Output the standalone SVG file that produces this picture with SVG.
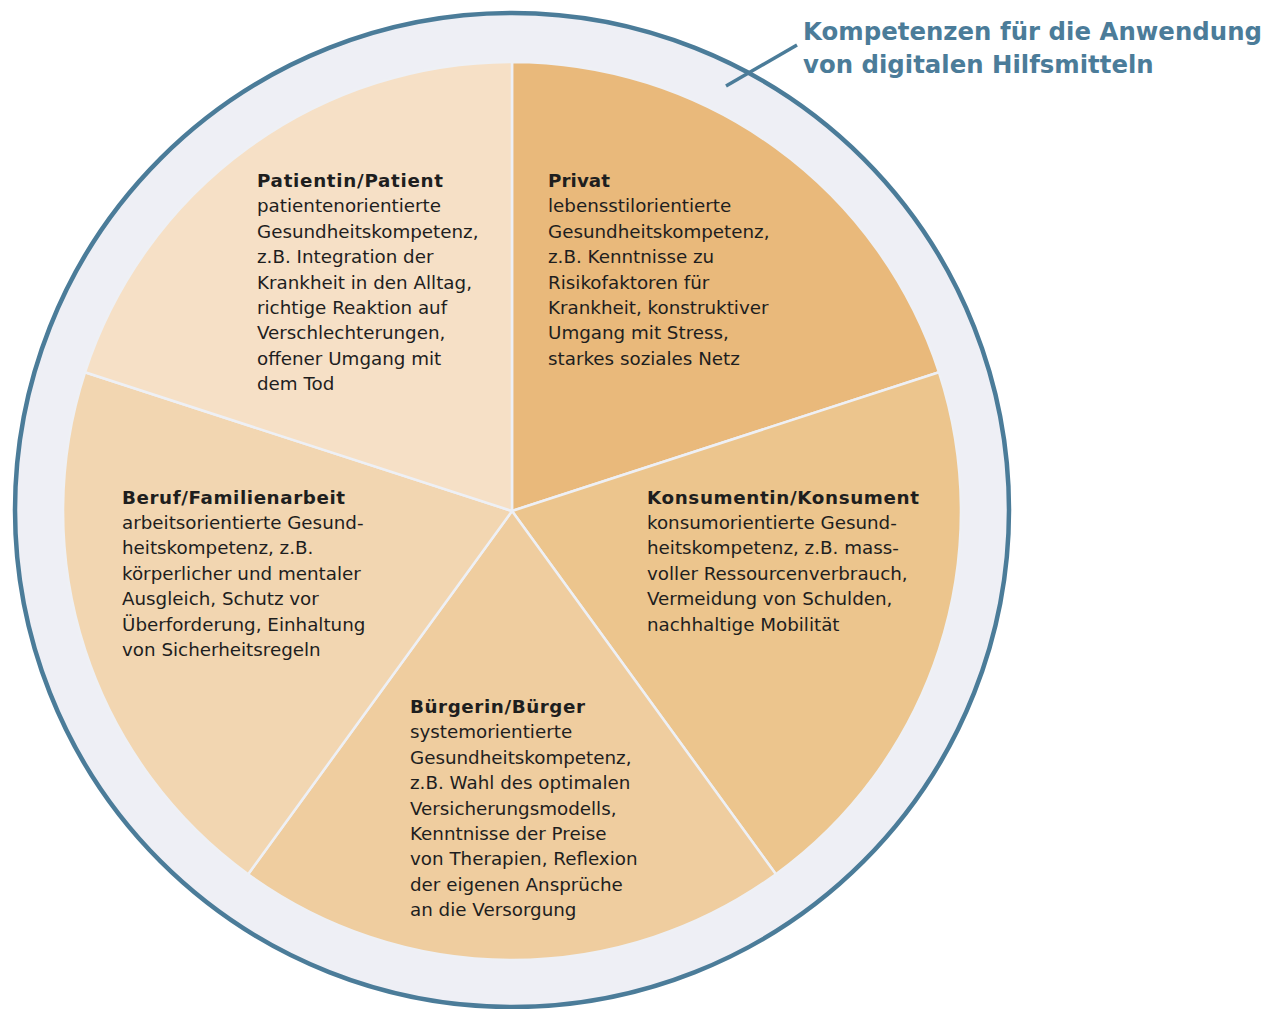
<svg xmlns="http://www.w3.org/2000/svg" width="1276" height="1009" viewBox="0 0 1276 1009">
<style>
.t{font-family:"DejaVu Sans","Verdana",sans-serif;font-size:18.3px;fill:#1e1e1e}
.b{font-weight:bold}
.sl{stroke:#eef0f5;stroke-width:2.5;stroke-linejoin:round}
.ttl{font-family:"DejaVu Sans","Verdana",sans-serif;font-size:24.4px;font-weight:bold;fill:#4b7c99}
</style>
<rect width="1276" height="1009" fill="#ffffff"/>
<g id="ring">
<circle cx="512" cy="510" r="497" fill="#eeeff5" stroke="#4b7c99" stroke-width="4.5"/>
</g>
<g id="privat">
<path class="sl" fill="#e9b97b" d="M512,511 L512,62 A449,449 0 0 1 939,372.3 Z"/>
<text class="t" x="548"><tspan class="b" x="548" y="187" textLength="62">Privat</tspan><tspan x="548" y="212.4">lebensstilorientierte</tspan><tspan x="548" y="237.8">Gesundheitskompetenz,</tspan><tspan x="548" y="263.2">z.B. Kenntnisse zu</tspan><tspan x="548" y="288.6">Risikofaktoren für</tspan><tspan x="548" y="314">Krankheit, konstruktiver</tspan><tspan x="548" y="339.4">Umgang mit Stress,</tspan><tspan x="548" y="364.8">starkes soziales Netz</tspan></text>
</g>
<g id="konsument">
<path class="sl" fill="#ecc58d" d="M512,511 L939,372.3 A449,449 0 0 1 775.9,874.2 Z"/>
<text class="t"><tspan class="b" x="647" y="503.5" textLength="272">Konsumentin/Konsument</tspan><tspan x="647" y="528.9">konsumorientierte Gesund-</tspan><tspan x="647" y="554.3">heitskompetenz, z.B. mass-</tspan><tspan x="647" y="579.7">voller Ressourcenverbrauch,</tspan><tspan x="647" y="605.1">Vermeidung von Schulden,</tspan><tspan x="647" y="630.5">nachhaltige Mobilität</tspan></text>
</g>
<g id="buerger">
<path class="sl" fill="#efcd9f" d="M512,511 L775.9,874.2 A449,449 0 0 1 248.1,874.2 Z"/>
<text class="t"><tspan class="b" x="410" y="713" textLength="175">Bürgerin/Bürger</tspan><tspan x="410" y="738.4">systemorientierte</tspan><tspan x="410" y="763.8">Gesundheitskompetenz,</tspan><tspan x="410" y="789.2">z.B. Wahl des optimalen</tspan><tspan x="410" y="814.6">Versicherungsmodells,</tspan><tspan x="410" y="840">Kenntnisse der Preise</tspan><tspan x="410" y="865.4">von Therapien, Reflexion</tspan><tspan x="410" y="890.8">der eigenen Ansprüche</tspan><tspan x="410" y="916.2">an die Versorgung</tspan></text>
</g>
<g id="beruf">
<path class="sl" fill="#f2d6b1" d="M512,511 L248.1,874.2 A449,449 0 0 1 85,372.3 Z"/>
<text class="t"><tspan class="b" x="122" y="503.5" textLength="223">Beruf/Familienarbeit</tspan><tspan x="122" y="528.9">arbeitsorientierte Gesund-</tspan><tspan x="122" y="554.3">heitskompetenz, z.B.</tspan><tspan x="122" y="579.7">körperlicher und mentaler</tspan><tspan x="122" y="605.1">Ausgleich, Schutz vor</tspan><tspan x="122" y="630.5">Überforderung, Einhaltung</tspan><tspan x="122" y="655.9">von Sicherheitsregeln</tspan></text>
</g>
<g id="patient">
<path class="sl" fill="#f6e0c6" d="M512,511 L85,372.3 A449,449 0 0 1 512,62 Z"/>
<text class="t"><tspan class="b" x="257" y="187" textLength="186">Patientin/Patient</tspan><tspan x="257" y="212.4">patientenorientierte</tspan><tspan x="257" y="237.8">Gesundheitskompetenz,</tspan><tspan x="257" y="263.2">z.B. Integration der</tspan><tspan x="257" y="288.6">Krankheit in den Alltag,</tspan><tspan x="257" y="314">richtige Reaktion auf</tspan><tspan x="257" y="339.4">Verschlechterungen,</tspan><tspan x="257" y="364.8">offener Umgang mit</tspan><tspan x="257" y="390.2">dem Tod</tspan></text>
</g>
<g id="title">
<text class="ttl"><tspan x="803" y="40" textLength="459">Kompetenzen für die Anwendung</tspan><tspan x="803" y="73">von digitalen Hilfsmitteln</tspan></text>
</g>
<g id="connectors">
<line x1="726" y1="86" x2="797" y2="45" stroke="#4b7c99" stroke-width="3.5"/>
</g>
</svg>
